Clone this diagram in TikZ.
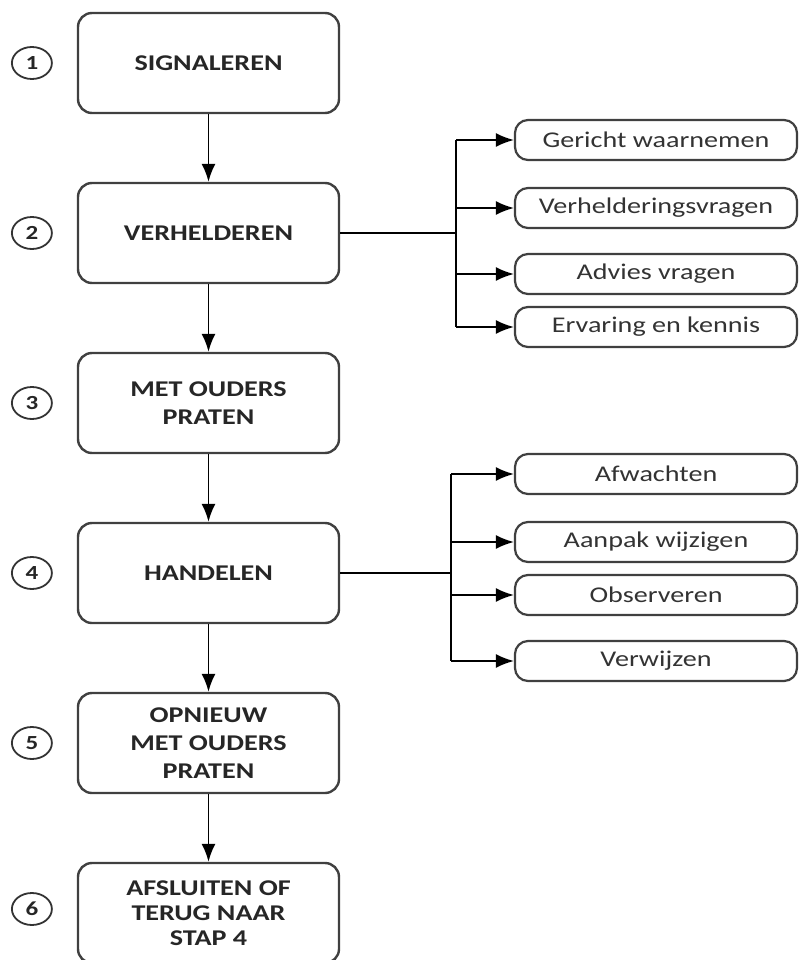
\documentclass[tikz,border=0pt]{standalone}
\usepackage{fontspec}
\setmainfont[FakeStretch=1.25]{Carlito}
\usepackage{tikz}
\usetikzlibrary{positioning,arrows.meta,shapes.geometric}

\begin{document}
\begin{tikzpicture}[x=1pt,y=-1pt,>={Latex[length=18pt,width=14pt]},line width=1.8pt,node distance=67.6pt,
    stage/.style={draw=black!75,line width=2.4pt,rounded corners=14pt,minimum width=261pt,minimum height=100pt,align=center,font=\fontsize{22.5}{28}\selectfont\bfseries,text=black!85},
    num/.style={draw=black!80,line width=1.8pt,ellipse,minimum width=40pt,minimum height=32pt,inner sep=0pt,font=\fontsize{20}{24}\selectfont\bfseries,text=black!85},
    task/.style={draw=black!75,line width=2.2pt,rounded corners=13pt,minimum width=282pt,minimum height=40pt,font=\fontsize{22.5}{28}\selectfont,text=black!80}]
        \useasboundingbox (0,0) rectangle (799,960);
        \node[stage] (signaleren) at (208.5,63) {SIGNALEREN};
        \node[stage,below=of signaleren] (verhelderen) {VERHELDEREN};
        \node[stage,below=of verhelderen] (ouders) {MET OUDERS\\PRATEN};
        \node[stage,below=of ouders] (handelen) {HANDELEN};
        \node[stage,below=of handelen] (opnieuw) {OPNIEUW\\MET OUDERS\\PRATEN};
        \node[stage,below=of opnieuw,font=\fontsize{22.5}{25}\selectfont\bfseries] (afsluiten) {AFSLUITEN OF\\TERUG NAAR\\STAP 4};
        \node[num,left=24pt of signaleren] (n1) {1};
        \node[num,left=24pt of verhelderen] (n2) {2};
        \node[num,left=24pt of ouders] (n3) {3};
        \node[num,left=24pt of handelen] (n4) {4};
        \node[num,left=24pt of opnieuw] (n5) {5};
        \node[num,left=24pt of afsluiten,yshift=4pt] (n6) {6};
        \node[task] (gericht) at (656,140) {Gericht waarnemen};
        \node[task] (vragen) at (656,208) {Verhelderingsvragen};
        \node[task] (advies) at (656,274) {Advies vragen};
        \node[task] (ervaring) at (656,327) {Ervaring en kennis};
        \node[task] (afwachten) at (656,474) {Afwachten};
        \node[task] (aanpak) at (656,542) {Aanpak wijzigen};
        \node[task] (observeren) at (656,595) {Observeren};
        \node[task] (verwijzen) at (656,661) {Verwijzen};
        \coordinate (splitA) at (456,0);
        \coordinate (splitB) at (451,0);
        \draw[->] (signaleren) -- (verhelderen);
        \draw[->] (verhelderen) -- (ouders);
        \draw[->] (ouders) -- (handelen);
        \draw[->] (handelen) -- (opnieuw);
        \draw[->] (opnieuw) -- (afsluiten);
        \draw (verhelderen.east) -- (splitA |- verhelderen);
        \draw (handelen.east) -- (splitB |- handelen);
        \draw (splitA |- gericht) -- (splitA |- ervaring);
        \draw (splitB |- afwachten) -- (splitB |- verwijzen);
        \foreach \t in {gericht,vragen,advies,ervaring}
            \draw[->] (splitA |- \t) -- (\t);
        \foreach \t in {afwachten,aanpak,observeren,verwijzen}
            \draw[->] (splitB |- \t) -- (\t);
    \end{tikzpicture}
\end{document}
